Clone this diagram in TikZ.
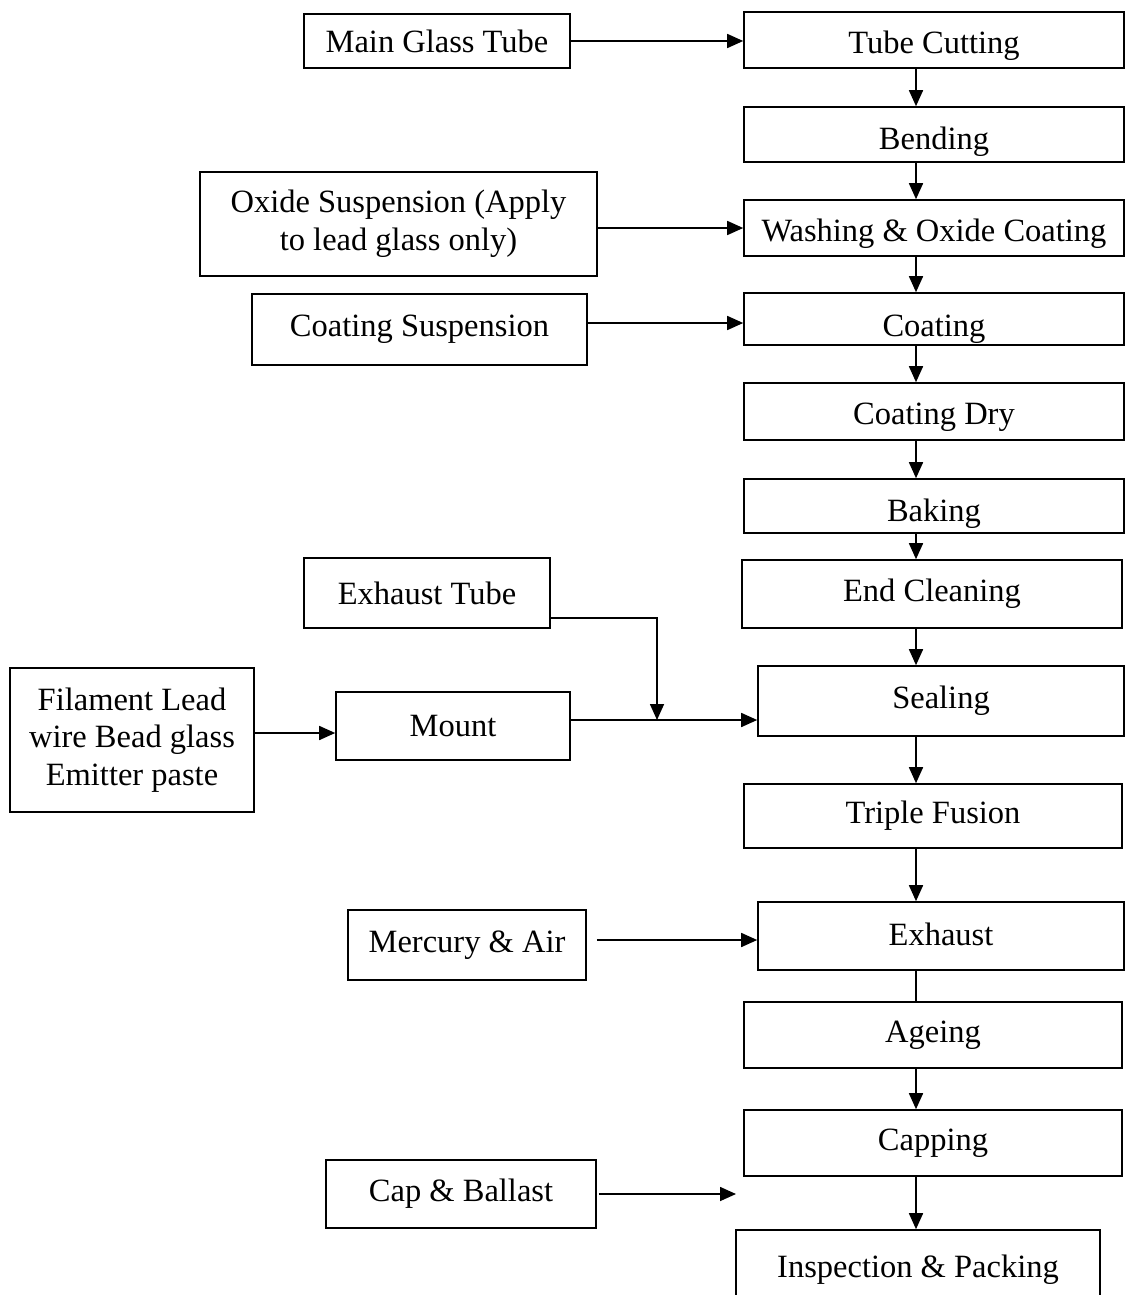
\documentclass[tikz,border=0pt]{standalone}
\usepackage{fontspec}
\setmainfont{Liberation Serif}
\usetikzlibrary{arrows.meta}
\newcommand{\dn}[2]{\raisebox{-#1pt}[\height][\depth]{#2}}
\begin{document}
\begin{tikzpicture}[x=1pt,y=-1pt,
  box/.style={draw, line width=1.6pt, inner sep=0pt, align=center,
    font=\fontsize{32.5}{38}\selectfont},
  flow/.style={line width=1.6pt, -{Triangle[length=16pt,width=14pt]}},
  plain/.style={line width=1.6pt}]
\useasboundingbox (0,0) rectangle (1126,1295);
% right column
\node[box, minimum width=380, minimum height=56] (tc) at (934,40) {\dn{6}{Tube Cutting}};
\node[box, minimum width=380, minimum height=55] (bend) at (934,134.5) {\dn{7}{Bending}};
\node[box, minimum width=380, minimum height=56] (wash) at (934,228) {\dn{6}{Washing \& Oxide Coating}};
\node[box, minimum width=380, minimum height=52] (coat) at (934,319) {\dn{10}{Coating}};
\node[box, minimum width=380, minimum height=57] (dry) at (934,411.5) {\dn{6}{Coating Dry}};
\node[box, minimum width=380, minimum height=54] (bake) at (934,506) {\dn{8}{Baking}};
\node[box, minimum width=380, minimum height=68] (endc) at (932,594) {End Cleaning};
\node[box, minimum width=366, minimum height=70] (seal) at (941,701) {Sealing};
\node[box, minimum width=378, minimum height=64] (triple) at (933,816) {Triple Fusion};
\node[box, minimum width=366, minimum height=68] (exh) at (941,936) {\dn{-2}{Exhaust}};
\node[box, minimum width=378, minimum height=66] (age) at (933,1035) {Ageing};
\node[box, minimum width=378, minimum height=66] (cap) at (933,1143) {Capping};
\node[box, minimum width=364, minimum height=80] (insp) at (918,1270) {Inspection \& Packing};
% left inputs
\node[box, minimum width=266, minimum height=54] (mgt) at (437,41) {Main Glass Tube};
\node[box, minimum width=397, minimum height=104] (oxide) at (398.5,224) {Oxide Suspension (Apply\\to lead glass only)};
\node[box, minimum width=335, minimum height=71] (cs) at (419.5,329.5) {Coating Suspension};
\node[box, minimum width=246, minimum height=70] (et) at (427,593) {Exhaust Tube};
\node[box, minimum width=244, minimum height=144, font=\fontsize{32.5}{37.5}\selectfont] (fil) at (132,740) {Filament Lead\\wire Bead glass\\Emitter paste};
\node[box, minimum width=234, minimum height=68] (mount) at (453,726) {Mount};
\node[box, minimum width=238, minimum height=70] (mer) at (467,945) {Mercury \& Air};
\node[box, minimum width=270, minimum height=68] (cab) at (461,1194) {Cap \& Ballast};
% coordinates
\coordinate (colx) at (916,0);
\coordinate (j) at (657,720);
\coordinate (cabend) at (736,1194);
% main flow
\draw[flow] (tc.south -| colx) -- (bend.north -| colx);
\draw[flow] (bend.south -| colx) -- (wash.north -| colx);
\draw[flow] (wash.south -| colx) -- (coat.north -| colx);
\draw[flow] (coat.south -| colx) -- (dry.north -| colx);
\draw[flow] (dry.south -| colx) -- (bake.north -| colx);
\draw[flow] (bake.south -| colx) -- (endc.north -| colx);
\draw[flow] (endc.south -| colx) -- (seal.north -| colx);
\draw[flow] (seal.south -| colx) -- (triple.north -| colx);
\draw[flow] (triple.south -| colx) -- (exh.north -| colx);
\draw[plain] (exh.south -| colx) -- (age.north -| colx);
\draw[flow] (age.south -| colx) -- (cap.north -| colx);
\draw[flow] (cap.south -| colx) -- (insp.north -| colx);
% inputs
\draw[flow] (mgt.east) -- (mgt.east -| tc.west);
\draw[flow] (wash.west -| oxide.east) -- (wash.west);
\draw[flow] ([yshift=-4pt]coat.west -| cs.east) -- ([yshift=-4pt]coat.west);
\draw[flow] ([yshift=11pt]et.south east) -| (j);
\draw[flow] (mount.east |- j) -- (seal.west |- j);
\draw[flow] ([yshift=7pt]fil.east) -- ([yshift=7pt]fil.east -| mount.west);
\draw[flow] ([xshift=10pt,yshift=5pt]mer.east) -- ([yshift=5pt]mer.east -| exh.west);
\draw[flow] ([xshift=2pt]cab.east) -- (cabend);
\end{tikzpicture}
\end{document}
